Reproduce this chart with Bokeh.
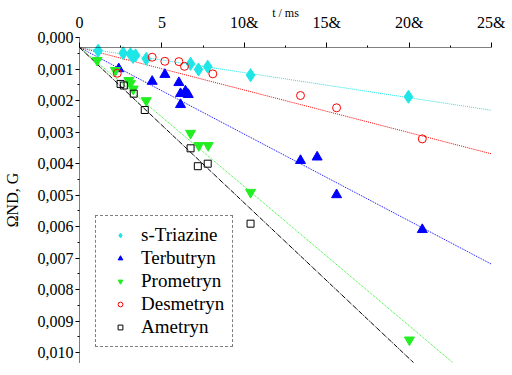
from bokeh.plotting import figure
from bokeh.models import (Range1d, LinearAxis, FixedTicker, CustomJSTickFormatter,
                          Legend, LegendItem, Span)
from bokeh.embed import file_html
from bokeh.resources import INLINE

# ---- data ----
series_names = ["s-Triazine", "Terbutryn", "Prometryn", "Desmetryn", "Ametryn"]

tri_x = [1.13, 2.65, 3.09, 3.25, 3.40, 4.05, 6.74, 7.22, 7.78, 10.38, 19.96]
tri_y = [0.00010, 0.00018, 0.00021, 0.00030, 0.00025, 0.00036, 0.00052, 0.00070, 0.00061, 0.00088, 0.00157]

ter_x = [2.38, 4.41, 5.18, 6.03, 6.13, 6.43, 6.60, 6.13, 13.41, 14.42, 15.60, 20.80]
ter_y = [0.00068, 0.00108, 0.00086, 0.00112, 0.00147, 0.00139, 0.00150, 0.00182, 0.00360, 0.00349, 0.00469, 0.00580]

pro_x = [1.07, 2.18, 2.99, 3.09, 3.26, 4.05, 6.74, 7.24, 7.81, 10.38, 20.02]
pro_y = [0.00041, 0.00073, 0.00105, 0.00114, 0.00132, 0.00169, 0.00273, 0.00312, 0.00312, 0.00461, 0.00931]

des_x = [2.29, 4.41, 5.18, 6.03, 6.37, 8.09, 13.41, 15.60, 20.80]
des_y = [0.00082, 0.00031, 0.00044, 0.00045, 0.00060, 0.00084, 0.00153, 0.00192, 0.00291]

ame_x = [2.49, 2.69, 3.29, 3.96, 6.74, 7.18, 7.78, 10.38]
ame_y = [0.00116, 0.00121, 0.00147, 0.00199, 0.00321, 0.00378, 0.00370, 0.00561]

# fitted slopes of the lines through the origin (per ms)
fit_slopes = [0.0000800, 0.0002760, 0.0004430, 0.0001355, 0.0004950]
fit_x = [0, 25]

x_title = "t / ms"
y_title = "ΩND, G"
x_ticks = [0, 5, 10, 15, 20, 25]
x_tick_labels = ["0", "5", "10&", "15&", "20&", "25&"]
y_ticks = [0.000, 0.001, 0.002, 0.003, 0.004, 0.005, 0.006, 0.007, 0.008, 0.009, 0.010]

colors = ["#1EE6E6", "#0000FF", "#22EE22", "#FF0000", "#000000"]
dashes = ["1 1", "1 1", "1 1", "1 1", "5 1 1 1"]

FONT = "Liberation Serif"

# ---- figure ----
p = figure(width=505, height=368, output_backend="svg", toolbar_location=None,
           x_range=Range1d(0, 25), y_range=Range1d(0.01003, -0.000318),
           x_axis_location="above", y_axis_location=None,
           min_border_left=79, min_border_right=14, min_border_top=37, min_border_bottom=6)
p.outline_line_color = None
p.grid.visible = False
p.background_fill_color = "white"

# label axis (the tick labels sit slightly above their data position, as in the source)
p.extra_y_ranges = {"lab": Range1d(0.010317, 0.0)}
yax = LinearAxis(y_range_name="lab")
yax.ticker = FixedTicker(ticks=y_ticks,
                         minor_ticks=[v + 0.0005 for v in y_ticks[:-1]])
yax.formatter = CustomJSTickFormatter(code="return tick.toFixed(3).replace('.', ',');")
p.add_layout(yax, "left")

xax = p.xaxis[0]
for ax in [xax, yax]:
    ax.axis_line_dash = "1 1"
    ax.axis_line_color = "black"
    ax.major_label_text_font = FONT
    ax.major_label_text_font_size = "16px"
    ax.major_label_text_color = "black"
    ax.major_tick_line_color = "black"
    ax.minor_tick_line_color = "black"
    ax.axis_label_text_font = FONT
    ax.axis_label_text_font_style = "normal"
    ax.axis_label_text_color = "black"

yax.major_tick_out = 4
yax.major_tick_in = 0
yax.minor_tick_out = 2
yax.minor_tick_in = 0
yax.major_label_standoff = 2
yax.axis_label = y_title
yax.axis_label_text_font_size = "16px"
yax.axis_label_standoff = 14

xax.axis_line_color = None
xax.ticker = FixedTicker(ticks=x_ticks, minor_ticks=[v + 2.5 for v in x_ticks[:-1]])
xax.major_label_overrides = {t: s for t, s in zip(x_ticks, x_tick_labels)}
xax.major_tick_in = 10
xax.major_tick_out = -5
xax.minor_tick_in = 10
xax.minor_tick_out = -8
xax.major_label_standoff = 12
xax.axis_label = x_title
xax.axis_label_text_font_size = "12px"
xax.axis_label_standoff = -9

# x axis line at y = 0
p.add_layout(Span(location=0, dimension="width", line_color="black",
                  line_dash="1 1", line_width=1))

# fit lines
for s, c, d in zip(fit_slopes, colors, dashes):
    p.line(fit_x, [s * v for v in fit_x], line_color=c, line_dash=d, line_width=1)

r1 = p.scatter(tri_x, tri_y, marker="diamond", size=13, fill_color=colors[0], line_color=colors[0])
r2 = p.scatter(ter_x, ter_y, marker="triangle", size=10, fill_color=colors[1], line_color=colors[1])
r3 = p.scatter(pro_x, pro_y, marker="inverted_triangle", size=10, fill_color=colors[2], line_color=colors[2])
r4 = p.scatter(des_x, des_y, marker="circle", size=8, fill_color=None, line_color=colors[3])
r5 = p.scatter(ame_x, ame_y, marker="square", size=7, fill_color=None, line_color=colors[4])

legend = Legend(items=[LegendItem(label=n, renderers=[r]) for n, r in
                       zip(series_names, [r1, r2, r3, r4, r5])],
                location=(16, 15), orientation="vertical")
legend.label_text_font = FONT
legend.label_text_font_size = "19px"
legend.label_text_color = "black"
legend.glyph_width = 32
legend.glyph_height = 12
legend.label_standoff = 5
legend.padding = 8
legend.spacing = 1
legend.label_height = 20
legend.border_line_color = "black"
legend.border_line_dash = "1 1"
legend.border_line_width = 1
legend.background_fill_color = "white"
legend.background_fill_alpha = 1.0
p.add_layout(legend, "center")

open("out.html", "w").write(file_html(p, INLINE))
